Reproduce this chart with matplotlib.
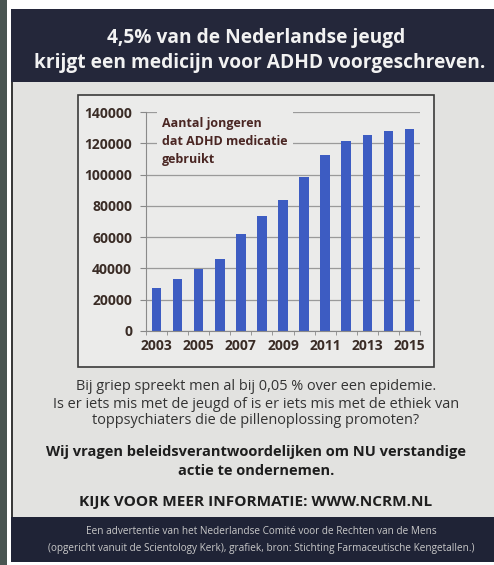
import matplotlib
matplotlib.use("Agg")
import matplotlib.pyplot as plt
from matplotlib.patches import Rectangle

years = [2003, 2004, 2005, 2006, 2007, 2008, 2009, 2010, 2011, 2012, 2013, 2014, 2015]
users = [27500, 33500, 39500, 46000, 62000, 73500, 84000, 98500, 112500, 121500, 125500, 128000, 129000]
yticks = [0, 20000, 40000, 60000, 80000, 100000, 120000, 140000]
xtick_years = [2003, 2005, 2007, 2009, 2011, 2013, 2015]

title_lines = ["4,5% van de Nederlandse jeugd",
               "krijgt een medicijn voor ADHD voorgeschreven."]
annotation = "Aantal jongeren\ndat ADHD medicatie\ngebruikt"
body_lines = ["Bij griep spreekt men al bij 0,05 % over een epidemie.",
              "Is er iets mis met de jeugd of is er iets mis met de ethiek van",
              "toppsychiaters die de pillenoplossing promoten?"]
call_lines = ["Wij vragen beleidsverantwoordelijken om NU verstandige",
              "actie te ondernemen."]
url_line = "KIJK VOOR MEER INFORMATIE: WWW.NCRM.NL"
footer_lines = ["Een advertentie van het Nederlandse Comité voor de Rechten van de Mens",
                "(opgericht vanuit de Scientology Kerk), grafiek, bron: Stichting Farmaceutische Kengetallen.)"]

W, H = 494, 565
plt.rcParams['font.family'] = ['Open Sans', 'DejaVu Sans']
fig = plt.figure(figsize=(W / 100, H / 100), dpi=100)
fig.patch.set_facecolor('white')

def fx(x):
    return x / W

def fy(y):
    return 1 - y / H

def rect(x0, y0, x1, y1, **kw):
    fig.patches.append(Rectangle((fx(x0), fy(y1)), fx(x1) - fx(x0), (y1 - y0) / H,
                                 transform=fig.transFigure, figure=fig, zorder=-1, **kw))

# photo background strip on the left
rect(0, 0, 7, H, facecolor='#4a5552', edgecolor='none')
# ad page
rect(11, 9, W, 562, facecolor='#e2e2e0', edgecolor='none')
rect(11, 9, 13, 562, facecolor='#3a3a3a', edgecolor='none')
# header band
rect(11, 9, W, 82, facecolor='#24273a', edgecolor='none')
# footer band
rect(11, 517, W, 562, facecolor='#1f2336', edgecolor='none')
# chart frame
rect(78, 95, 434, 367, facecolor='#ebebea', edgecolor='#3a3a3a', linewidth=1.2)

# title
fig.text(fx(256), fy(38), title_lines[0], color='#f2f2f2', fontsize=13.8,
         fontweight='bold', ha='center', va='center')
fig.text(fx(260), fy(63), title_lines[1], color='#f2f2f2', fontsize=13.8,
         fontweight='bold', ha='center', va='center')

# chart axes
ax = fig.add_axes([fx(146), fy(331), fx(420) - fx(146), (331 - 112) / H])
ax.set_zorder(5)
ax.set_facecolor('none')
xs = list(range(len(years)))
ax.bar(xs, users, width=0.45, color='#3d5cc2', zorder=2)
ax.set_xlim(-0.5, len(years) - 0.5)
ax.set_ylim(0, 140000)
ax.set_yticks(yticks)
ax.set_yticklabels([str(v) for v in yticks], fontsize=10, fontweight='bold', color='#3a2c26')
ax.set_xticks([years.index(y) for y in xtick_years])
ax.set_xticklabels([str(y) for y in xtick_years], fontsize=10, fontweight='bold', color='#3a2c26')
ax.set_xticks([i - 0.5 for i in range(len(years) + 1)], minor=True)
ax.tick_params(axis='x', which='major', length=0, pad=6)
ax.tick_params(axis='x', which='minor', length=3, color='#888888', direction='out')
ax.tick_params(axis='y', length=4, color='#888888', pad=6)
ax.yaxis.grid(True, color='#9a9a9a', linewidth=0.9, zorder=0)
ax.set_axisbelow(True)
for s in ['top', 'right']:
    ax.spines[s].set_visible(False)
ax.spines['left'].set_color('#8a8a8a')
ax.spines['bottom'].set_color('#8a8a8a')
ax.text(0.26, 137000, annotation, fontsize=9.0, fontweight='bold', color='#4a2623',
        va='top', ha='left', linespacing=1.5, zorder=3,
        bbox=dict(facecolor='#ebebea', edgecolor='none', pad=4))

# body text
for i, line in enumerate(body_lines):
    fig.text(fx(256), fy(387 + i * 17), line, color='#333333', fontsize=10.45,
             ha='center', va='center')
for i, line in enumerate(call_lines):
    fig.text(fx(256), fy(452 + i * 19), line, color='#1e1e1e', fontsize=10.5,
             fontweight='bold', ha='center', va='center')
fig.text(fx(256), fy(502), url_line, color='#1e1e1e', fontsize=11.1,
         fontweight='bold', ha='center', va='center')
for i, line in enumerate(footer_lines):
    fig.text(fx(261), fy(532 + i * 17), line, color='#c8c8c8', fontsize=7.2,
             ha='center', va='center')

fig.savefig('out.png', dpi=100, facecolor=fig.get_facecolor())
